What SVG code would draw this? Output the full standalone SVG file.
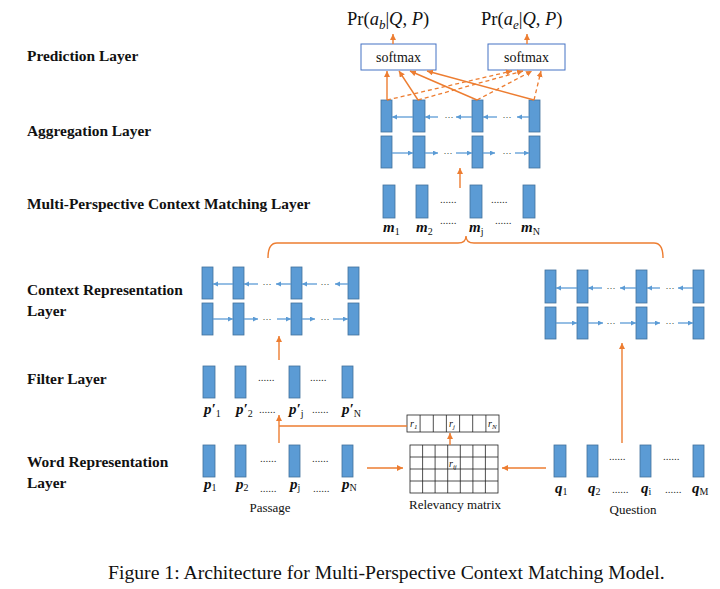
<svg xmlns="http://www.w3.org/2000/svg" width="720" height="589" viewBox="0 0 720 589">
<defs>
<style>
.bar{fill:#5B9BD5;stroke:#41719C;stroke-width:0.8}
.lab{font-family:"Liberation Serif","Times New Roman",serif;font-weight:bold;font-size:15.4px;fill:#111}
.ser{font-family:"Liberation Serif","Times New Roman",serif;fill:#111}
.vec{font-family:"Liberation Serif","Times New Roman",serif;font-weight:bold;font-style:italic;font-size:15px;fill:#111}
.sub{font-weight:normal;font-style:normal;font-size:10px}
.dots{font-family:"Liberation Serif",serif;font-size:11px;fill:#333}
.bdots{font-family:"Liberation Sans",sans-serif;font-size:9px;fill:#444;text-anchor:middle}
.or{stroke:#ED7D31;stroke-width:1.4;fill:none}
.ord{stroke:#ED7D31;stroke-width:1.3;fill:none;stroke-dasharray:4 3}
.bl{stroke:#5B9BD5;stroke-width:1.3;fill:none;marker-end:url(#ba)}
.box{fill:#fff;stroke:#4472C4;stroke-width:1}
.grid{fill:#fff;stroke:#222;stroke-width:0.8}
</style>
<marker id="oa" markerWidth="7" markerHeight="7" refX="6" refY="3" orient="auto" markerUnits="userSpaceOnUse"><path d="M0,0 L6,3 L0,6 z" fill="#ED7D31"/></marker>
<marker id="ba" markerWidth="6" markerHeight="6" refX="5" refY="2.5" orient="auto" markerUnits="userSpaceOnUse"><path d="M0,0 L5,2.5 L0,5 z" fill="#5B9BD5"/></marker>
</defs>
<rect width="720" height="589" fill="#fff"/>

<g id="layer-labels" class="lab">
<text x="27" y="61">Prediction Layer</text>
<text x="27" y="136">Aggregation Layer</text>
<text x="27" y="209">Multi-Perspective  Context Matching Layer</text>
<text x="27" y="295">Context Representation</text>
<text x="27" y="316">Layer</text>
<text x="27" y="384">Filter Layer</text>
<text x="27" y="467">Word Representation</text>
<text x="27" y="488">Layer</text>
</g>

<g id="outputs" class="ser" font-size="18.5">
<text x="347" y="25">Pr(<tspan font-style="italic">a</tspan><tspan font-style="italic" font-size="13" dy="4">b</tspan><tspan dy="-4">|</tspan><tspan font-style="italic">Q</tspan>, <tspan font-style="italic">P</tspan>)</text>
<text x="481" y="25">Pr(<tspan font-style="italic">a</tspan><tspan font-style="italic" font-size="13" dy="4">e</tspan><tspan dy="-4">|</tspan><tspan font-style="italic">Q</tspan>, <tspan font-style="italic">P</tspan>)</text>
</g>

<g id="softmax-begin">
<rect class="box" x="361" y="44" width="75" height="26"/>
<text class="ser" x="398.5" y="62" font-size="14" text-anchor="middle">softmax</text>
</g>
<g id="softmax-end">
<rect class="box" x="488" y="44" width="77" height="26"/>
<text class="ser" x="526.5" y="62" font-size="14" text-anchor="middle">softmax</text>
</g>

<g id="aggregation-layer">
<rect class="bar" x="381" y="100" width="11" height="32"/>
<rect class="bar" x="413" y="100" width="12" height="32"/>
<rect class="bar" x="472" y="100" width="11" height="32"/>
<rect class="bar" x="529" y="100" width="11" height="32"/>
<rect class="bar" x="381" y="136" width="11" height="32"/>
<rect class="bar" x="413" y="136" width="12" height="32"/>
<rect class="bar" x="472" y="136" width="11" height="32"/>
<rect class="bar" x="529" y="136" width="11" height="32"/>
<text class="bdots" x="449" y="120">···</text>
<text class="bdots" x="507" y="120">···</text>
<text class="bdots" x="448" y="156">···</text>
<text class="bdots" x="507" y="156">···</text>
</g>

<g id="matching-layer">
<rect class="bar" x="383" y="185" width="12" height="33"/>
<rect class="bar" x="416" y="185" width="12" height="33"/>
<rect class="bar" x="470" y="185" width="12" height="33"/>
<rect class="bar" x="523" y="185" width="12" height="33"/>
<text class="dots" x="440" y="203">......</text>
<text class="dots" x="491" y="203">......</text>
<text class="dots" x="440" y="224">......</text>
<text class="dots" x="495" y="224">......</text>
<text class="vec" x="383" y="232">m<tspan class="sub" dy="3">1</tspan></text>
<text class="vec" x="416" y="232">m<tspan class="sub" dy="3">2</tspan></text>
<text class="vec" x="469" y="232">m<tspan class="sub" dy="3" font-style="italic">j</tspan></text>
<text class="vec" x="521" y="232">m<tspan class="sub" dy="3" font-style="italic">N</tspan></text>
</g>

<g id="context-passage">
<rect class="bar" x="202" y="267" width="11" height="32"/>
<rect class="bar" x="233" y="267" width="11" height="32"/>
<rect class="bar" x="291" y="267" width="11" height="32"/>
<rect class="bar" x="348" y="267" width="11" height="32"/>
<rect class="bar" x="202" y="303" width="11" height="32"/>
<rect class="bar" x="233" y="303" width="11" height="32"/>
<rect class="bar" x="291" y="303" width="11" height="32"/>
<rect class="bar" x="348" y="303" width="11" height="32"/>
<text class="bdots" x="267" y="287">···</text>
<text class="bdots" x="325" y="287">···</text>
<text class="bdots" x="267" y="322">···</text>
<text class="bdots" x="325" y="322">···</text>
</g>

<g id="context-question">
<rect class="bar" x="545" y="270" width="11" height="33"/>
<rect class="bar" x="577" y="270" width="11" height="33"/>
<rect class="bar" x="636" y="270" width="11" height="33"/>
<rect class="bar" x="693" y="270" width="11" height="33"/>
<rect class="bar" x="545" y="307" width="11" height="32"/>
<rect class="bar" x="577" y="307" width="11" height="32"/>
<rect class="bar" x="636" y="307" width="11" height="32"/>
<rect class="bar" x="693" y="307" width="11" height="32"/>
<text class="bdots" x="611" y="291">···</text>
<text class="bdots" x="670" y="291">···</text>
<text class="bdots" x="611" y="326">···</text>
<text class="bdots" x="670" y="326">···</text>
</g>

<g id="filter-layer">
<rect class="bar" x="203" y="366" width="12" height="32"/>
<rect class="bar" x="235" y="366" width="11" height="32"/>
<rect class="bar" x="289" y="366" width="11" height="32"/>
<rect class="bar" x="342" y="366" width="11" height="32"/>
<text class="dots" x="258" y="381">......</text>
<text class="dots" x="310" y="381">......</text>
<text class="dots" x="259" y="413">......</text>
<text class="dots" x="312" y="413">......</text>
<text class="vec" x="204" y="414">p′<tspan class="sub" dy="3">1</tspan></text>
<text class="vec" x="236" y="414">p′<tspan class="sub" dy="3">2</tspan></text>
<text class="vec" x="289" y="414">p′<tspan class="sub" dy="3" font-style="italic">j</tspan></text>
<text class="vec" x="342" y="414">p′<tspan class="sub" dy="3" font-style="italic">N</tspan></text>
</g>

<g id="word-passage">
<rect class="bar" x="203" y="445" width="12" height="32"/>
<rect class="bar" x="235" y="445" width="11" height="32"/>
<rect class="bar" x="289" y="445" width="11" height="32"/>
<rect class="bar" x="342" y="445" width="11" height="32"/>
<text class="dots" x="260" y="462">......</text>
<text class="dots" x="312" y="462">......</text>
<text class="dots" x="260" y="492">......</text>
<text class="dots" x="313" y="492">......</text>
<text class="vec" x="204" y="489">p<tspan class="sub" dy="2">1</tspan></text>
<text class="vec" x="236" y="489">p<tspan class="sub" dy="2">2</tspan></text>
<text class="vec" x="290" y="489">p<tspan class="sub" dy="2" font-style="italic">j</tspan></text>
<text class="vec" x="342" y="489">p<tspan class="sub" dy="2" font-style="italic">N</tspan></text>
<text class="ser" x="270" y="512" font-size="13" text-anchor="middle">Passage</text>
</g>

<g id="word-question">
<rect class="bar" x="554" y="445" width="12" height="32"/>
<rect class="bar" x="587" y="445" width="11" height="32"/>
<rect class="bar" x="640" y="445" width="11" height="32"/>
<rect class="bar" x="693" y="445" width="11" height="32"/>
<text class="dots" x="609" y="460">......</text>
<text class="dots" x="663" y="460">......</text>
<text class="dots" x="612" y="493">......</text>
<text class="dots" x="665" y="493">......</text>
<text class="vec" x="555" y="493">q<tspan class="sub" dy="2">1</tspan></text>
<text class="vec" x="588" y="493">q<tspan class="sub" dy="2">2</tspan></text>
<text class="vec" x="641" y="493">q<tspan class="sub" dy="2" font-style="italic">i</tspan></text>
<text class="vec" x="692" y="493">q<tspan class="sub" dy="2" font-style="italic">M</tspan></text>
<text class="ser" x="633" y="514" font-size="13" text-anchor="middle">Question</text>
</g>

<g id="relevancy-vector">
<rect class="grid" x="407" y="415" width="92" height="17"/>
<path d="M420.1,415V432M433.3,415V432M446.4,415V432M459.6,415V432M472.7,415V432M485.9,415V432" stroke="#222" stroke-width="0.8"/>
<text class="ser" x="410" y="427" font-size="10" font-style="italic">r<tspan font-size="7" dy="2">1</tspan></text>
<text class="ser" x="449" y="427" font-size="10" font-style="italic">r<tspan font-size="7" dy="2">j</tspan></text>
<text class="ser" x="488" y="427" font-size="10" font-style="italic">r<tspan font-size="7" dy="2">N</tspan></text>
</g>

<g id="relevancy-matrix">
<rect class="grid" x="410" y="445" width="88" height="48"/>
<path d="M422.6,445V493M435.1,445V493M447.7,445V493M460.3,445V493M472.9,445V493M485.4,445V493M410,457H498M410,469H498M410,481H498" stroke="#222" stroke-width="0.8"/>
<text class="ser" x="449" y="467" font-size="10" font-style="italic">r<tspan font-size="7" dy="2">ij</tspan></text>
<text class="ser" x="455" y="509" font-size="13" text-anchor="middle">Relevancy matrix</text>
</g>

<g id="connectors">
<g id="prediction-edges">
<line class="or" x1="393" y1="44" x2="393" y2="34" marker-end="url(#oa)"/>
<line class="or" x1="527" y1="44" x2="527" y2="34" marker-end="url(#oa)"/>
<line class="or" x1="387" y1="100" x2="387" y2="71" marker-end="url(#oa)"/>
<line class="or" x1="418" y1="100" x2="399" y2="71" marker-end="url(#oa)"/>
<line class="or" x1="477" y1="100" x2="410" y2="71" marker-end="url(#oa)"/>
<line class="or" x1="534" y1="100" x2="427" y2="71" marker-end="url(#oa)"/>
<line class="ord" x1="387" y1="100" x2="512" y2="71" marker-end="url(#oa)"/>
<line class="ord" x1="418" y1="100" x2="523" y2="71" marker-end="url(#oa)"/>
<line class="ord" x1="477" y1="100" x2="532" y2="71" marker-end="url(#oa)"/>
<line class="ord" x1="534" y1="100" x2="541" y2="71" marker-end="url(#oa)"/>
</g>
<line class="or" x1="460" y1="188" x2="460" y2="168" marker-end="url(#oa)"/>
<path class="or" d="M268,258 Q268,243 277,243 L458,243 Q466,243 466,236 Q466,243 474,243 L654,243 Q663,243 663,258"/>
<line class="or" x1="279" y1="360" x2="279" y2="336" marker-end="url(#oa)"/>
<line class="or" x1="622" y1="443" x2="622" y2="343" marker-end="url(#oa)"/>
<line class="or" x1="279" y1="443" x2="279" y2="415" marker-end="url(#oa)"/>
<line class="or" x1="279" y1="426" x2="407" y2="426"/>
<line class="or" x1="367" y1="468" x2="403" y2="468" marker-end="url(#oa)"/>
<line class="or" x1="546" y1="468" x2="502" y2="468" marker-end="url(#oa)"/>
<line class="or" x1="450" y1="445" x2="450" y2="433" marker-end="url(#oa)"/>
<g id="lstm-arrows">
<line class="bl" x1="413" y1="117" x2="392" y2="117"/>
<line class="bl" x1="438" y1="117" x2="425" y2="117"/>
<line class="bl" x1="472" y1="117" x2="456" y2="117"/>
<line class="bl" x1="497" y1="117" x2="483" y2="117"/>
<line class="bl" x1="529" y1="117" x2="517" y2="117"/>
<line class="bl" x1="392" y1="153" x2="413" y2="153"/>
<line class="bl" x1="425" y1="153" x2="438" y2="153"/>
<line class="bl" x1="456" y1="153" x2="472" y2="153"/>
<line class="bl" x1="483" y1="153" x2="495" y2="153"/>
<line class="bl" x1="515" y1="153" x2="529" y2="153"/>

<line class="bl" x1="233" y1="284" x2="213" y2="284"/>
<line class="bl" x1="258" y1="284" x2="244" y2="284"/>
<line class="bl" x1="291" y1="284" x2="276" y2="284"/>
<line class="bl" x1="317" y1="284" x2="302" y2="284"/>
<line class="bl" x1="348" y1="284" x2="335" y2="284"/>
<line class="bl" x1="213" y1="319" x2="233" y2="319"/>
<line class="bl" x1="244" y1="319" x2="258" y2="319"/>
<line class="bl" x1="277" y1="319" x2="291" y2="319"/>
<line class="bl" x1="302" y1="319" x2="315" y2="319"/>
<line class="bl" x1="333" y1="319" x2="348" y2="319"/>

<line class="bl" x1="577" y1="288" x2="556" y2="288"/>
<line class="bl" x1="602" y1="288" x2="588" y2="288"/>
<line class="bl" x1="636" y1="288" x2="620" y2="288"/>
<line class="bl" x1="660" y1="288" x2="647" y2="288"/>
<line class="bl" x1="693" y1="288" x2="678" y2="288"/>
<line class="bl" x1="556" y1="323" x2="577" y2="323"/>
<line class="bl" x1="588" y1="323" x2="603" y2="323"/>
<line class="bl" x1="620" y1="323" x2="636" y2="323"/>
<line class="bl" x1="647" y1="323" x2="660" y2="323"/>
<line class="bl" x1="678" y1="323" x2="693" y2="323"/>
</g>
</g>

<text id="caption" class="ser" x="108" y="579" font-size="19.7">Figure 1: Architecture for Multi-Perspective Context Matching Model.</text>
</svg>
